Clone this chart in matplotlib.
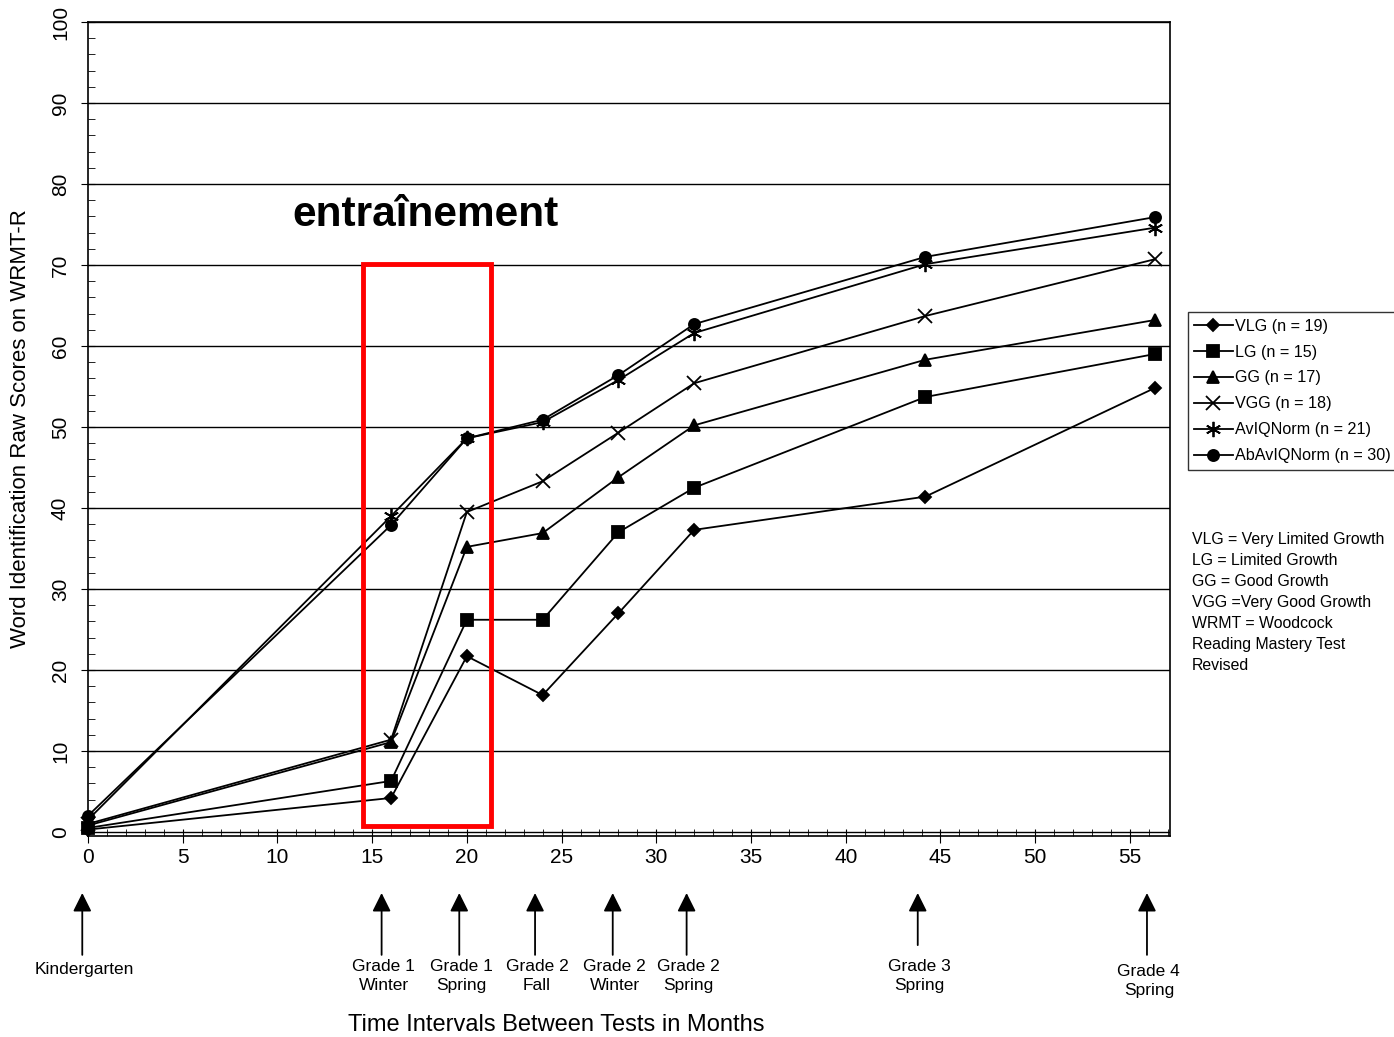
import matplotlib
matplotlib.use("Agg")
import matplotlib.pyplot as plt
from matplotlib.patches import Rectangle
from matplotlib.ticker import MultipleLocator

plt.rcParams['font.family'] = ['Liberation Sans', 'DejaVu Sans']

# months at which tests were given
months = [0, 16, 20, 24, 28, 32, 44.2, 56.3]

vlg = [0.3, 4.2, 21.7, 16.9, 27.0, 37.3, 41.4, 54.8]
lg = [0.5, 6.3, 26.2, 26.2, 37.0, 42.5, 53.7, 59.0]
gg = [0.8, 11.1, 35.2, 36.9, 43.8, 50.2, 58.3, 63.2]
vgg = [1.0, 11.4, 39.5, 43.3, 49.3, 55.4, 63.7, 70.7]
aviq = [1.5, 39.0, 48.6, 50.6, 55.8, 61.6, 70.1, 74.6]
abaviq = [2.0, 37.9, 48.6, 50.9, 56.4, 62.7, 71.0, 75.9]

series_names = ["VLG (n = 19)", "LG (n = 15)", "GG (n = 17)", "VGG (n = 18)",
                "AvIQNorm (n = 21)", "AbAvIQNorm (n = 30)"]

grade_labels = ["Kindergarten", "Grade 1\nWinter", "Grade 1\nSpring", "Grade 2\nFall",
                "Grade 2\nWinter", "Grade 2\nSpring", "Grade 3\nSpring", "Grade 4\nSpring"]
grade_months = [-0.3, 15.5, 19.6, 23.6, 27.7, 31.6, 43.8, 55.9]

note = ("VLG = Very Limited Growth\nLG = Limited Growth\nGG = Good Growth\n"
        "VGG =Very Good Growth\nWRMT = Woodcock\nReading Mastery Test\nRevised")

fig = plt.figure(figsize=(13.94, 10.37), dpi=100)
ax = fig.add_axes([0.0631, 0.1938, 0.776, 0.785])

all_series = [vlg, lg, gg, vgg, aviq, abaviq]
markers = ['D', 's', '^', 'x', (6, 2, 0), 'o']
sizes = [6, 8, 8, 10, 11, 8]
for ys, name, mk, ms in zip(all_series, series_names, markers, sizes):
    ax.plot(months, ys, color='black', lw=1.3, marker=mk, markersize=ms,
            markeredgewidth=1.3, label=name, clip_on=False, zorder=3)

ax.set_xlim(0, 57.1)
ax.set_ylim(-0.5, 100)
ax.xaxis.set_major_locator(MultipleLocator(5))
ax.xaxis.set_minor_locator(MultipleLocator(1))
ax.yaxis.set_major_locator(MultipleLocator(10))
ax.yaxis.set_minor_locator(MultipleLocator(2))
ax.tick_params(axis='both', which='major', labelsize=15, direction='inout', length=10)
ax.tick_params(axis='both', which='minor', direction='in', length=5)
ax.tick_params(axis='y', pad=8)
for lab in ax.get_yticklabels():
    lab.set_rotation(90)
    lab.set_va('center')
ax.grid(axis='y', color='black', lw=1.0)
ax.set_axisbelow(True)
for sp in ax.spines.values():
    sp.set_linewidth(1.2)

ax.set_ylabel("Word Identification Raw Scores on WRMT-R", fontsize=16, labelpad=14)
fig.text(556 / 1394, 1 - 1025 / 1037, "Time Intervals Between Tests in Months",
         fontsize=17, ha='center', va='center')

# red box marking the training period
ax.add_patch(Rectangle((14.5, 0.7), 6.8, 69.4, fill=False, edgecolor='#ff0000',
                       lw=3.5, zorder=5))
ax.text(10.8, 74.8, "entraînement", fontsize=30.5, fontweight='bold', zorder=6)

# arrows under the axis for each test time
trans = ax.get_xaxis_transform()
for lab, m in zip(grade_labels, grade_months):
    tail = -0.146 if lab != "Grade 3\nSpring" else -0.134
    ax.annotate('', xy=(m, -0.070), xytext=(m, tail), xycoords=trans,
                textcoords=trans,
                arrowprops=dict(arrowstyle='-|>', mutation_scale=28, lw=1.3,
                                color='black', shrinkA=0, shrinkB=0))
    ty = -0.164 if lab == "Kindergarten" else -0.172
    if lab == "Grade 4\nSpring":
        ty = -0.178
    ax.text(m + 0.1, ty, lab, transform=trans, ha='center', va='center',
            fontsize=12.5, linespacing=1.3)

fig.legend(loc='upper left', bbox_to_anchor=(0.852, 0.699), fontsize=11.6,
           frameon=True, fancybox=False, edgecolor='black', handlelength=2.4,
           borderaxespad=0, labelspacing=0.68, borderpad=0.4, handletextpad=0.15)

fig.text(0.855, 0.487, note, fontsize=11.4, va='top', ha='left', linespacing=1.5)

fig.savefig("out.png", dpi=100)
